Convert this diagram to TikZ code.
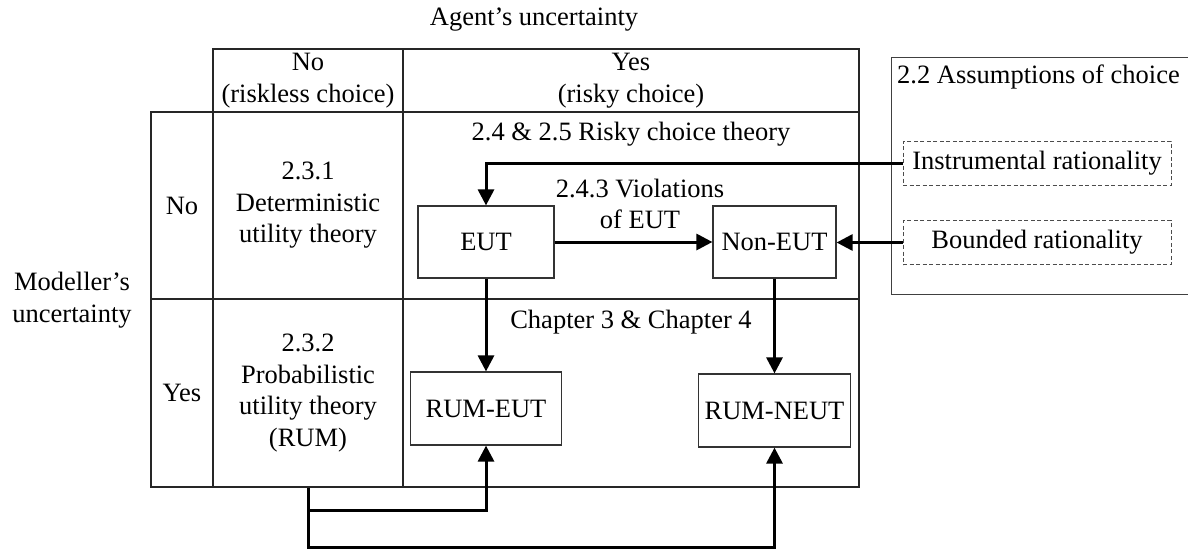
\documentclass[tikz,border=0pt]{standalone}
\usepackage{fontspec}
\setmainfont{Liberation Serif}
\usetikzlibrary{arrows.meta}
\begin{document}
\begin{tikzpicture}[x=1pt,y=-1pt,
  txt/.style={font=\fontsize{26.5}{31.5}\selectfont, inner sep=0pt, align=center},
  cell/.style={txt, draw=black!85, line width=1.2pt},
  box/.style={txt, draw=black!80, line width=1.2pt},
  dbox/.style={txt, draw=black!70, line width=1pt, dash pattern=on 4pt off 2.5pt,
               minimum width=268pt, minimum height=44pt},
  arr/.style={line width=3pt, -{Triangle[length=16pt,width=16pt]}}]
\useasboundingbox (0,0) rectangle (1188,549);
\fill[white] (0,0) rectangle (1188,549);
\clip (0,0) rectangle (1188,549);

% axis titles
\node[txt, anchor=base] (agent) at (534,25) {Agent's uncertainty};
\node[txt] (modeller) at (72,300) {Modeller's\\uncertainty};

% header row
\node[cell, minimum width=190pt, minimum height=63pt] (hno) at (308,80.5) {No\\(riskless choice)};
\node[cell, minimum width=456pt, minimum height=63pt] (hyes) at (631,80.5) {Yes\\(risky choice)};

% row labels
\node[cell, minimum width=62pt, minimum height=187pt] (rno) at (182,205.5) {No};
\node[cell, minimum width=62pt, minimum height=188pt] (ryes) at (182,393) {Yes};

% riskless column
\node[cell, minimum width=190pt, minimum height=187pt] (dut) at (308,205.5) {2.3.1\\Deterministic\\utility theory};
\node[cell, minimum width=190pt, minimum height=188pt] (put) at (308,393) {2.3.2\\Probabilistic\\utility theory\\(RUM)};

% risky column
\node[cell, minimum width=456pt, minimum height=187pt] (rct) at (631,205.5) {};
\node[cell, minimum width=456pt, minimum height=188pt] (chp) at (631,393) {};
\node[txt, anchor=base] (rctlabel) at (631,140.5) {2.4 \& 2.5 Risky choice theory};
\node[txt, anchor=base] (chplabel) at (631,328) {Chapter 3 \& Chapter 4};
\node[txt] (viol) at (640,204) {2.4.3 Violations\\of EUT};

% theory boxes
\node[box, minimum width=136pt, minimum height=72pt] (eut) at (486,242) {EUT};
\node[box, minimum width=123pt, minimum height=72pt] (neut) at (774.5,242) {Non-EUT};
\node[box, minimum width=151pt, minimum height=73pt] (rumeut) at (486,408.5) {RUM-EUT};
\node[box, minimum width=152pt, minimum height=73pt] (rumneut) at (774.5,410.5) {RUM-NEUT};

% assumptions panel
\node[box, draw=black!75, anchor=north west, minimum width=301pt, minimum height=237pt] (assump) at (891,57) {};
\node[txt, anchor=base west] (assumplabel) at (897,83) {2.2 Assumptions of choice};
\node[dbox] (instr) at (1037,163) {Instrumental rationality};
\node[dbox] (bounded) at (1037,242.5) {Bounded rationality};

% connectors
\draw[arr] (instr.west) -| (eut.north);
\draw[arr] (bounded.west) -- (bounded.west -| neut.east);
\draw[arr] (eut.east) -- (neut.west);
\draw[arr] (eut.south) -- (rumeut.north);
\draw[arr] (neut.south) -- (rumneut.north);
\coordinate (putfoot) at (put.south);
\coordinate (fork) at (308,510);
\coordinate (bend) at (308,547);
\draw[arr] (putfoot) -- (bend) -| (rumneut.south);
\draw[arr] (fork) -| (rumeut.south);
\end{tikzpicture}
\end{document}
